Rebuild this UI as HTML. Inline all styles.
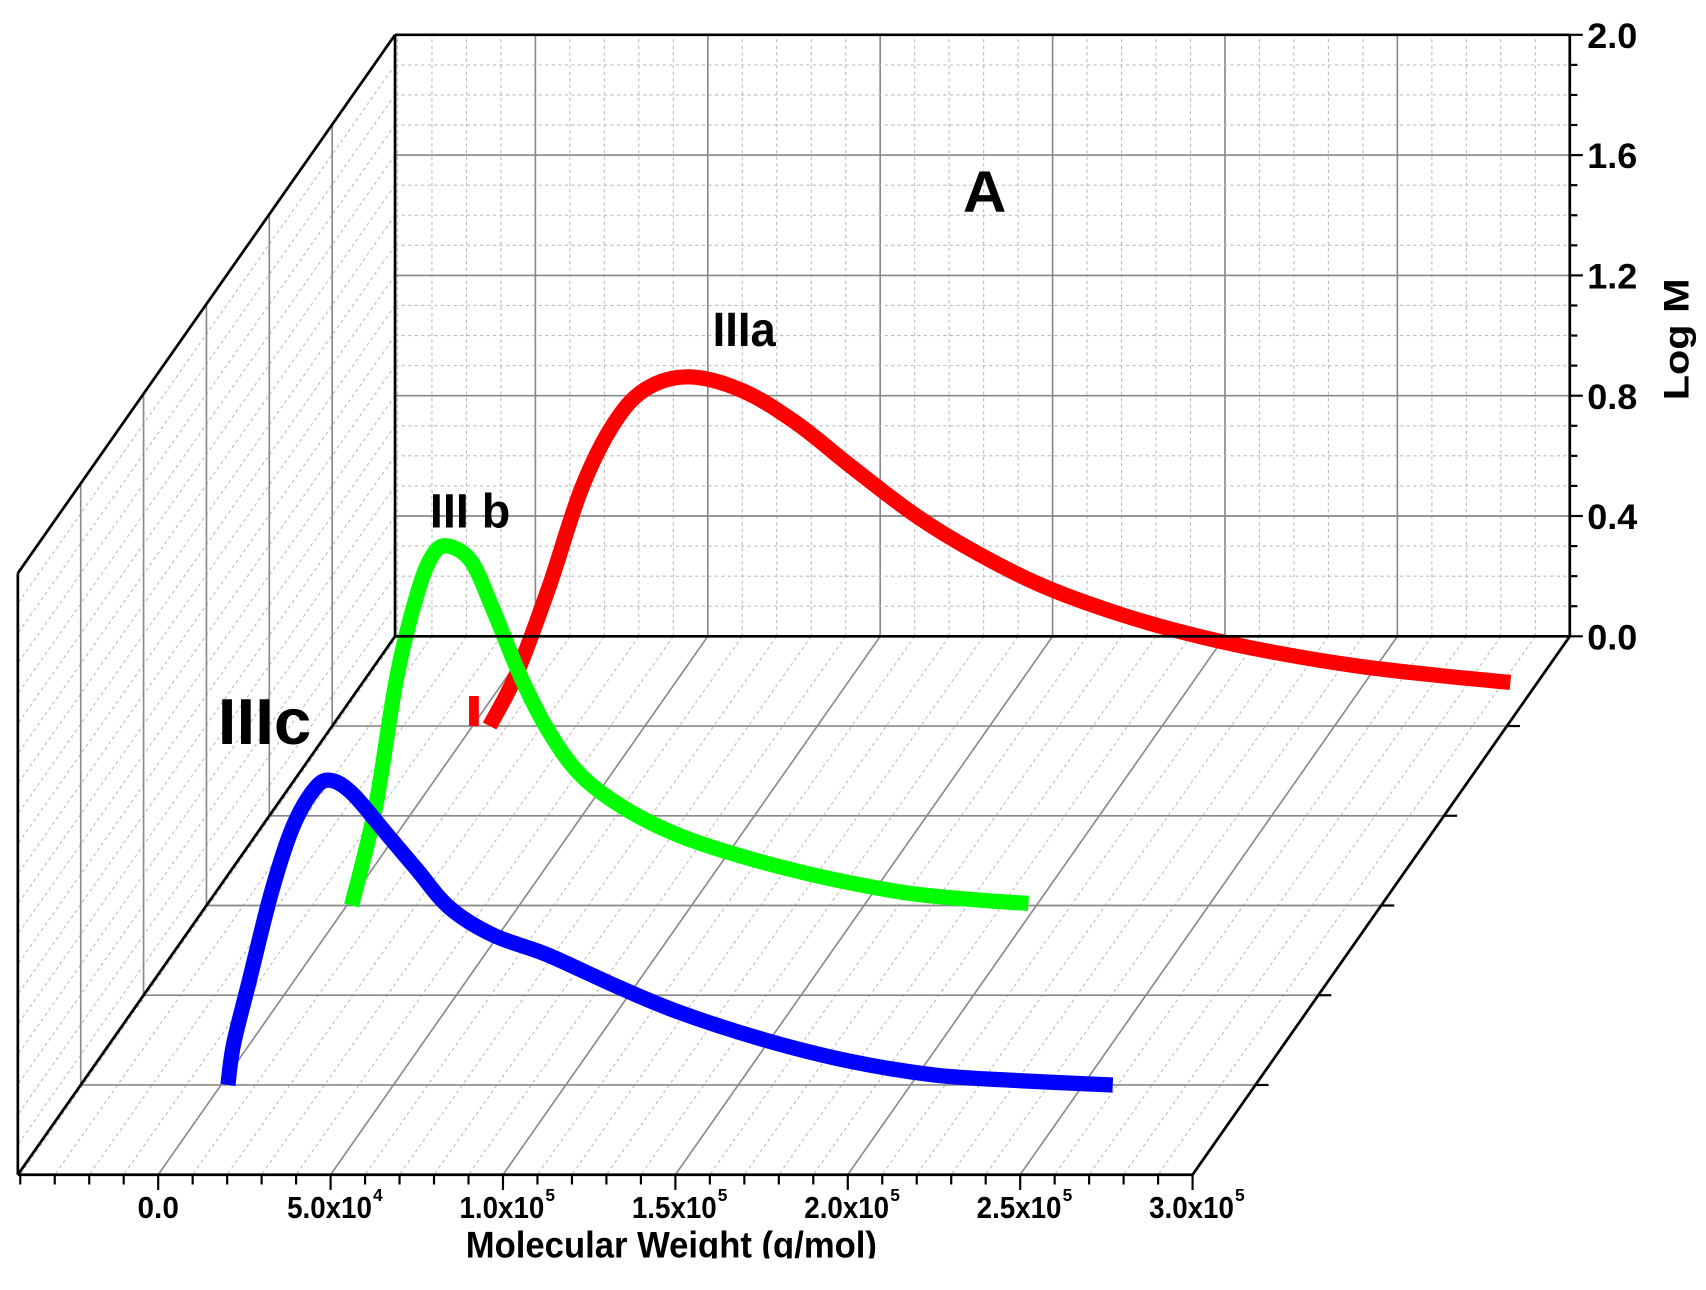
<!DOCTYPE html>
<html><head><meta charset="utf-8"><style>
html,body{margin:0;padding:0;background:#fff;}
svg{display:block;}
text{font-family:"Liberation Sans",sans-serif;font-weight:bold;fill:#000;}
</style></head><body>
<svg id="chart" width="1706" height="1290" viewBox="0 0 1568 1186" xmlns="http://www.w3.org/2000/svg">
<g id="grid"></g>
<g id="curves"></g>
<g id="axes"></g>
<text x="885" y="195" font-size="54" textLength="40" lengthAdjust="spacingAndGlyphs">A</text>
<text x="655" y="318" font-size="44" textLength="58" lengthAdjust="spacingAndGlyphs">IIIa</text>
<text x="395" y="485" font-size="44" textLength="74" lengthAdjust="spacingAndGlyphs">III b</text>
<text x="200" y="684" font-size="60" textLength="86" lengthAdjust="spacingAndGlyphs">IIIc</text>
<text transform="translate(1552,312) rotate(-90)" text-anchor="middle" font-size="32" textLength="112" lengthAdjust="spacingAndGlyphs">Log M</text>
<text x="617" y="1156" text-anchor="middle" font-size="34" textLength="378" lengthAdjust="spacingAndGlyphs">Molecular Weight (g/mol)</text>
<rect x="0" y="1157" width="1568" height="30" fill="#fff"/>
</svg>
<script>
const xTicks = [0, 50000, 100000, 150000, 200000, 250000, 300000];
const xTickLabels = ["0.0", "5.0x10", "1.0x10", "1.5x10", "2.0x10", "2.5x10", "3.0x10"];
const xTickExp = ["", "4", "5", "5", "5", "5", "5"];
const yTicks = [0, 0.4, 0.8, 1.2, 1.6, 2.0];
const yTickLabels = ["0.0", "0.4", "0.8", "1.2", "1.6", "2.0"];
const seriesNames = ["IIIa", "IIIb", "IIIc"];
const seriesDepth = [1, 3, 5];
const seriesColors = ["#ff0000", "#00ff00", "#0000ff"];
const redX = [4950, 12800, 22200, 31600, 41000, 50300, 62900, 78500, 94200, 110000, 128800, 147000, 166000, 188000, 210000, 232000, 257000, 282000, 301000];
const redY = [0, 0.174, 0.463, 0.789, 1.006, 1.121, 1.161, 1.114, 1.005, 0.861, 0.698, 0.571, 0.463, 0.371, 0.300, 0.246, 0.199, 0.166, 0.145];
const redStartX = [400, 400];
const redStartY = [0.1, 0];
const greenX = [1400, 8300, 14500, 20800, 25500, 30200, 36400, 42700, 50500, 58600, 67800, 80300, 95900, 114700, 136700, 161700, 183600, 197700];
const greenY = [0, 0.325, 0.76, 1.05, 1.175, 1.193, 1.139, 0.976, 0.759, 0.578, 0.434, 0.325, 0.235, 0.163, 0.098, 0.043, 0.018, 0.007];
const blueX = [2000, 3600, 8300, 14600, 20800, 27100, 31800, 38100, 47500, 56800, 66300, 78800, 94400, 113200, 131900, 157000, 182000, 207000, 232000, 258600];
const blueY = [0, 0.134, 0.351, 0.640, 0.857, 0.984, 1.013, 0.969, 0.842, 0.716, 0.589, 0.499, 0.434, 0.336, 0.246, 0.152, 0.080, 0.033, 0.014, 0];

const NS = "http://www.w3.org/2000/svg";
const X0 = 492, KX = 158.5 / 50000, Y0 = 585, KY = 276.5, DX = -57.8, DY = 82.5;
const XMIN = -40700, XMAX = 300000, NDEPTH = 6;
function sx(x, d) { return X0 + x * KX + d * DX; }
function sy(y, d) { return Y0 - y * KY + d * DY; }
function mk(parent, tag, attrs) {
  const e = document.createElementNS(NS, tag);
  for (const k in attrs) e.setAttribute(k, attrs[k]);
  parent.appendChild(e); return e;
}
function smoothPath(p) {
  let s = "M" + p[0][0].toFixed(1) + "," + p[0][1].toFixed(1);
  for (let i = 0; i < p.length - 1; i++) {
    const p0 = p[Math.max(0, i - 1)], p1 = p[i], p2 = p[i + 1], p3 = p[Math.min(p.length - 1, i + 2)];
    const c1 = [p1[0] + (p2[0] - p0[0]) / 6, p1[1] + (p2[1] - p0[1]) / 6];
    const c2 = [p2[0] - (p3[0] - p1[0]) / 6, p2[1] - (p3[1] - p1[1]) / 6];
    s += " C" + c1[0].toFixed(1) + "," + c1[1].toFixed(1) + " " + c2[0].toFixed(1) + "," + c2[1].toFixed(1) + " " + p2[0].toFixed(1) + "," + p2[1].toFixed(1);
  }
  return s;
}
const grid = document.getElementById("grid");
const axes = document.getElementById("axes");
const curves = document.getElementById("curves");
const minorStyle = {stroke: "#bbb", "stroke-width": 1, "stroke-dasharray": "3,3"};
const majorStyle = {stroke: "#888", "stroke-width": 1.5};
for (let x = -40000; x <= XMAX; x += 10000) {
  if (x < XMIN) continue;
  const major = x % 50000 === 0;
  const l = mk(grid, "line", Object.assign({x1: sx(x, 0), y1: sy(0, 0), x2: sx(x, 0), y2: sy(2, 0)}, major ? majorStyle : minorStyle));
  
  
  const f = mk(grid, "line", Object.assign({x1: sx(x, 0), y1: sy(0, 0), x2: sx(x, NDEPTH), y2: sy(0, NDEPTH)}, major ? majorStyle : minorStyle));
  
  
}
for (let i = 1; i < 20; i++) {
  const y = i / 10;
  const major = i % 4 === 0;
  const l = mk(grid, "line", Object.assign({x1: sx(XMIN, 0), y1: sy(y, 0), x2: sx(XMAX, 0), y2: sy(y, 0)}, major ? majorStyle : minorStyle));
  
  
  const w = mk(grid, "line", Object.assign({x1: sx(XMIN, 0), y1: sy(y, 0), x2: sx(XMIN, NDEPTH), y2: sy(y, NDEPTH)}, minorStyle));
  
  
}
for (let d = 1; d < NDEPTH; d++) {
  const w = mk(grid, "line", Object.assign({x1: sx(XMIN, d), y1: sy(0, d), x2: sx(XMIN, d), y2: sy(2, d)}, majorStyle));
  
  
  const f = mk(grid, "line", Object.assign({x1: sx(XMIN, d), y1: sy(0, d), x2: sx(XMAX, d), y2: sy(0, d)}, majorStyle));
  
  
}
const frame = [
  [XMIN, 0, 2, XMAX, 0, 2], [XMAX, 0, 0, XMAX, 0, 2], [XMIN, 0, 0, XMAX, 0, 0],
  [XMIN, 0, 0, XMIN, 0, 2], [XMIN, 0, 2, XMIN, NDEPTH, 2], [XMIN, NDEPTH, 0, XMIN, NDEPTH, 2],
  [XMIN, NDEPTH, 0, XMAX, NDEPTH, 0], [XMAX, 0, 0, XMAX, NDEPTH, 0], [XMIN, 0, 0, XMIN, NDEPTH, 0]
];
frame.forEach(f => {
  const l = mk(axes, "line", {x1: sx(f[0], f[1]), y1: sy(f[2], f[1]), x2: sx(f[3], f[4]), y2: sy(f[5], f[4]), stroke: "#000", "stroke-width": 2.5});
  
  
});
for (let i = 0; i <= 20; i++) {
  const y = i / 10, major = i % 4 === 0;
  const t = mk(axes, "line", {x1: sx(XMAX, 0), y1: sy(y, 0), x2: sx(XMAX, 0) + (major ? 12 : 7), y2: sy(y, 0), stroke: "#000", "stroke-width": 2});
  
  
}
yTicks.forEach((v, i) => {
  const t = mk(axes, "text", {x: sx(XMAX, 0) + 16, y: sy(v, 0) + 12, "font-size": 32, textLength: 46, lengthAdjust: "spacingAndGlyphs"});
  t.textContent = yTickLabels[i];
  
  
});
for (let x = -40000; x <= XMAX; x += 10000) {
  const major = x % 50000 === 0;
  const t = mk(axes, "line", {x1: sx(x, NDEPTH), y1: sy(0, NDEPTH), x2: sx(x, NDEPTH), y2: sy(0, NDEPTH) + (major ? 14 : 9), stroke: "#000", "stroke-width": 2});
  
  
}
xTicks.forEach((v, i) => {
  const g = mk(axes, "g", {});
  
  
  const w = i === 0 ? 38 : 78;
  const t = mk(g, "text", {x: sx(v, NDEPTH) - (i === 0 ? 19 : 40), y: sy(0, NDEPTH) + 40, "font-size": 28, textLength: w, lengthAdjust: "spacingAndGlyphs"});
  t.textContent = xTickLabels[i];
  if (xTickExp[i]) {
    const e = mk(g, "text", {x: sx(v, NDEPTH) + 39, y: sy(0, NDEPTH) + 24, "font-size": 16});
    e.textContent = xTickExp[i];
  }
});
for (let d = 1; d < NDEPTH; d++) {
  const t = mk(axes, "line", {x1: sx(XMAX, d), y1: sy(0, d), x2: sx(XMAX, d) + 12, y2: sy(0, d), stroke: "#000", "stroke-width": 2});
  
  
}
const seriesX = [redX, greenX, blueX], seriesY = [redY, greenY, blueY];
seriesNames.forEach((name, s) => {
  const d = seriesDepth[s];
  const pts = seriesX[s].map((x, i) => [sx(x, d), sy(seriesY[s][i], d)]);
  const p = mk(curves, "path", {d: smoothPath(pts), fill: "none", stroke: seriesColors[s], "stroke-width": 14, "stroke-linejoin": "round", "stroke-linecap": "butt"});
  
  
});
const st = mk(curves, "line", {x1: sx(redStartX[0], 1), y1: sy(redStartY[0], 1), x2: sx(redStartX[1], 1), y2: sy(redStartY[1], 1), stroke: "#ff0000", "stroke-width": 9});


</script>
</body></html>
